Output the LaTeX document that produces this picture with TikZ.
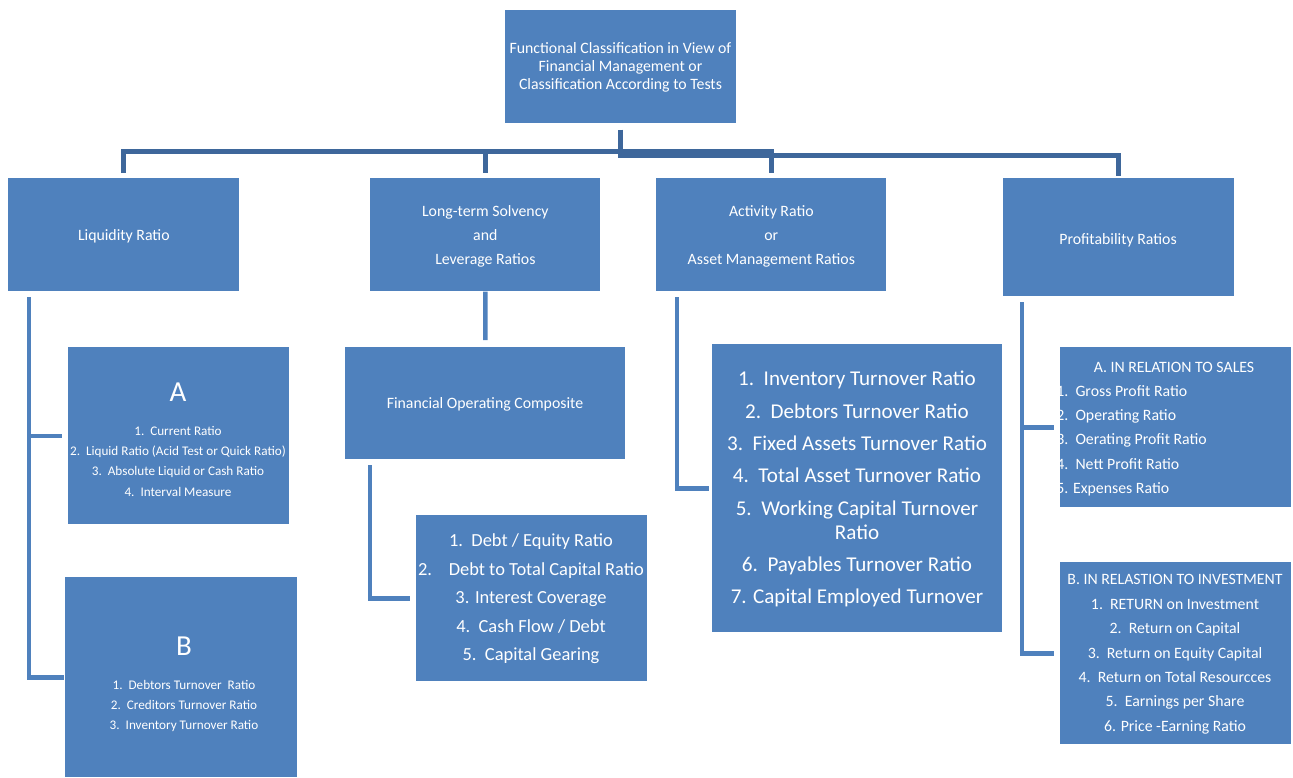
\documentclass[tikz,border=0pt]{standalone}
\usepackage{fontspec}
\setmainfont{Carlito}
\definecolor{boxblue}{HTML}{4F81BD}
\definecolor{linkblue}{HTML}{3E679B}
\begin{document}
\begin{tikzpicture}[x=0.02cm,y=-0.02cm,
  boxst/.style={fill=boxblue,draw=none,inner sep=0pt,anchor=north west},
  txt/.style={text=white,align=center,inner sep=0pt,yshift=-0.035cm},
  fnine/.style={font=\fontsize{9}{13.6}\selectfont},
  conn/.style={draw=linkblue,line width=0.1cm,line join=miter},
  branch/.style={draw=boxblue,line width=0.09cm,line join=miter}]
\useasboundingbox (0,0) rectangle (1293,777);
% boxes
\node[boxst,minimum width=4.62cm,minimum height=2.26cm] (top) at (505,10) {};
\node[boxst,minimum width=4.62cm,minimum height=2.26cm] (liq) at (8,178) {};
\node[boxst,minimum width=4.60cm,minimum height=2.26cm] (lt) at (370,178) {};
\node[boxst,minimum width=4.60cm,minimum height=2.26cm] (act) at (656,178) {};
\node[boxst,minimum width=4.62cm,minimum height=2.36cm] (prof) at (1003,178) {};
\node[boxst,minimum width=4.42cm,minimum height=3.54cm] (boxA) at (68,347) {};
\node[boxst,minimum width=4.64cm,minimum height=4.00cm] (boxB) at (65,577) {};
\node[boxst,minimum width=5.60cm,minimum height=2.24cm] (foc) at (345,347) {};
\node[boxst,minimum width=4.62cm,minimum height=3.32cm] (debt) at (416,515) {};
\node[boxst,minimum width=5.80cm,minimum height=5.76cm] (actl) at (712,344) {};
\node[boxst,minimum width=4.62cm,minimum height=3.20cm] (pa) at (1060,347) {};
\node[boxst,minimum width=4.62cm,minimum height=3.64cm] (pb) at (1060,562) {};
% top connectors
\coordinate (b1) at (0,151);
\coordinate (b2) at (0,155);
\draw[conn,shorten <=0.1cm,shorten >=0.1cm] (liq.north) -- (liq.north |- b1) -- (act.north |- b1) -- (act.north);
\draw[conn,shorten >=0.1cm] (lt.north |- b1) -- (lt.north);
\draw[conn,shorten <=0.12cm,shorten >=0.04cm] (top.south) -- (top.south |- b2) -- (prof.north |- b2) -- (prof.north);
% lower connectors
\coordinate (lq) at (29,297);
\draw[branch,shorten >=0.12cm] (lq) |- (boxA.west);
\draw[branch,shorten >=0.02cm] (lq) |- (boxB.west);
\draw[branch,shorten >=0.14cm] (lt.south) -- (foc.north);
\coordinate (fv) at (370,465);
\draw[branch,shorten >=0.12cm] (fv) |- (debt.west);
\coordinate (av) at (677,297);
\draw[branch,shorten >=0.06cm] (av) |- (actl.west);
\coordinate (pv) at (1022,302);
\draw[branch,shorten >=0.12cm] (pv) |- (pa.west);
\draw[branch,shorten >=0.12cm] (pv) |- (pb.west);
% texts
\node[txt,font=\fontsize{9}{10.2}\selectfont] (tTop) at (620.5,66) {Functional Classification in View of\\Financial Management or\\Classification According to Tests};
\node[txt,fnine] (tLiq) at (liq) {Liquidity Ratio};
\node[txt,fnine] (tLt) at (lt) {Long-term Solvency\\and\\Leverage Ratios};
\node[txt,fnine] (tAct) at (act) {Activity Ratio\\or\\Asset Management Ratios};
\node[txt,fnine] (tProf) at (1118,239) {Profitability Ratios};
\node[txt,font=\fontsize{16.5}{20}\selectfont] (tA) at (178,390) {A};
\node[txt,font=\fontsize{7.5}{11.5}\selectfont] (tAi) at (178,459.5) {1.~~Current Ratio\\2.~~Liquid Ratio (Acid Test or Quick Ratio)\\3.~~Absolute Liquid or Cash Ratio\\4.~~Interval Measure};
\node[txt,font=\fontsize{16.5}{20}\selectfont] (tB) at (184,644) {B};
\node[txt,font=\fontsize{7.5}{11.3}\selectfont] (tBi) at (184,704) {1.~~Debtors Turnover~ Ratio\\2.~~Creditors Turnover Ratio\\3.~~Inventory Turnover Ratio};
\node[txt,fnine] (tFoc) at (485,403) {Financial Operating Composite};
\node[txt,font=\fontsize{10.5}{16.2}\selectfont] (tDebt) at (531,597) {1.~~Debt / Equity Ratio\\2.~~~~Debt to Total Capital Ratio\\3. Interest Coverage\\4.~~Cash Flow / Debt\\5.~~Capital Gearing};
\node[txt,font=\fontsize{12}{13.6}\selectfont] (tActl) at (857,487.5) {1.~~Inventory Turnover Ratio\\[4.8pt]2.~~Debtors Turnover Ratio\\[4.8pt]3.~~Fixed Assets Turnover Ratio\\[4.8pt]4.~~Total Asset Turnover Ratio\\[4.8pt]5.~~Working Capital Turnover\\Ratio\\[4.8pt]6.~~Payables Turnover Ratio\\[4.8pt]7. Capital Employed Turnover};
\node[txt,fnine] (tPa) at (1174,366) {A. IN RELATION TO SALES};
\begin{scope}
\clip (pa.north west) rectangle (pa.south east);
\node[txt,align=left,anchor=west,font=\fontsize{9}{13.9}\selectfont] (tPai) at (1056,439) {1.~~Gross Profit Ratio\\2.~~Operating Ratio\\3.~~Oerating Profit Ratio\\4.~~Nett Profit Ratio\\5. Expenses Ratio};
\end{scope}
\node[txt,font=\fontsize{9}{13.9}\selectfont] (tPb) at (1175,652.5) {B. IN RELASTION TO INVESTMENT\\1.~~RETURN on Investment\\2.~~Return on Capital\\3.~~Return on Equity Capital\\4.~~Return on Total Resourcces\\5.~~Earnings per Share\\6. Price -Earning Ratio};
\end{tikzpicture}
\end{document}
